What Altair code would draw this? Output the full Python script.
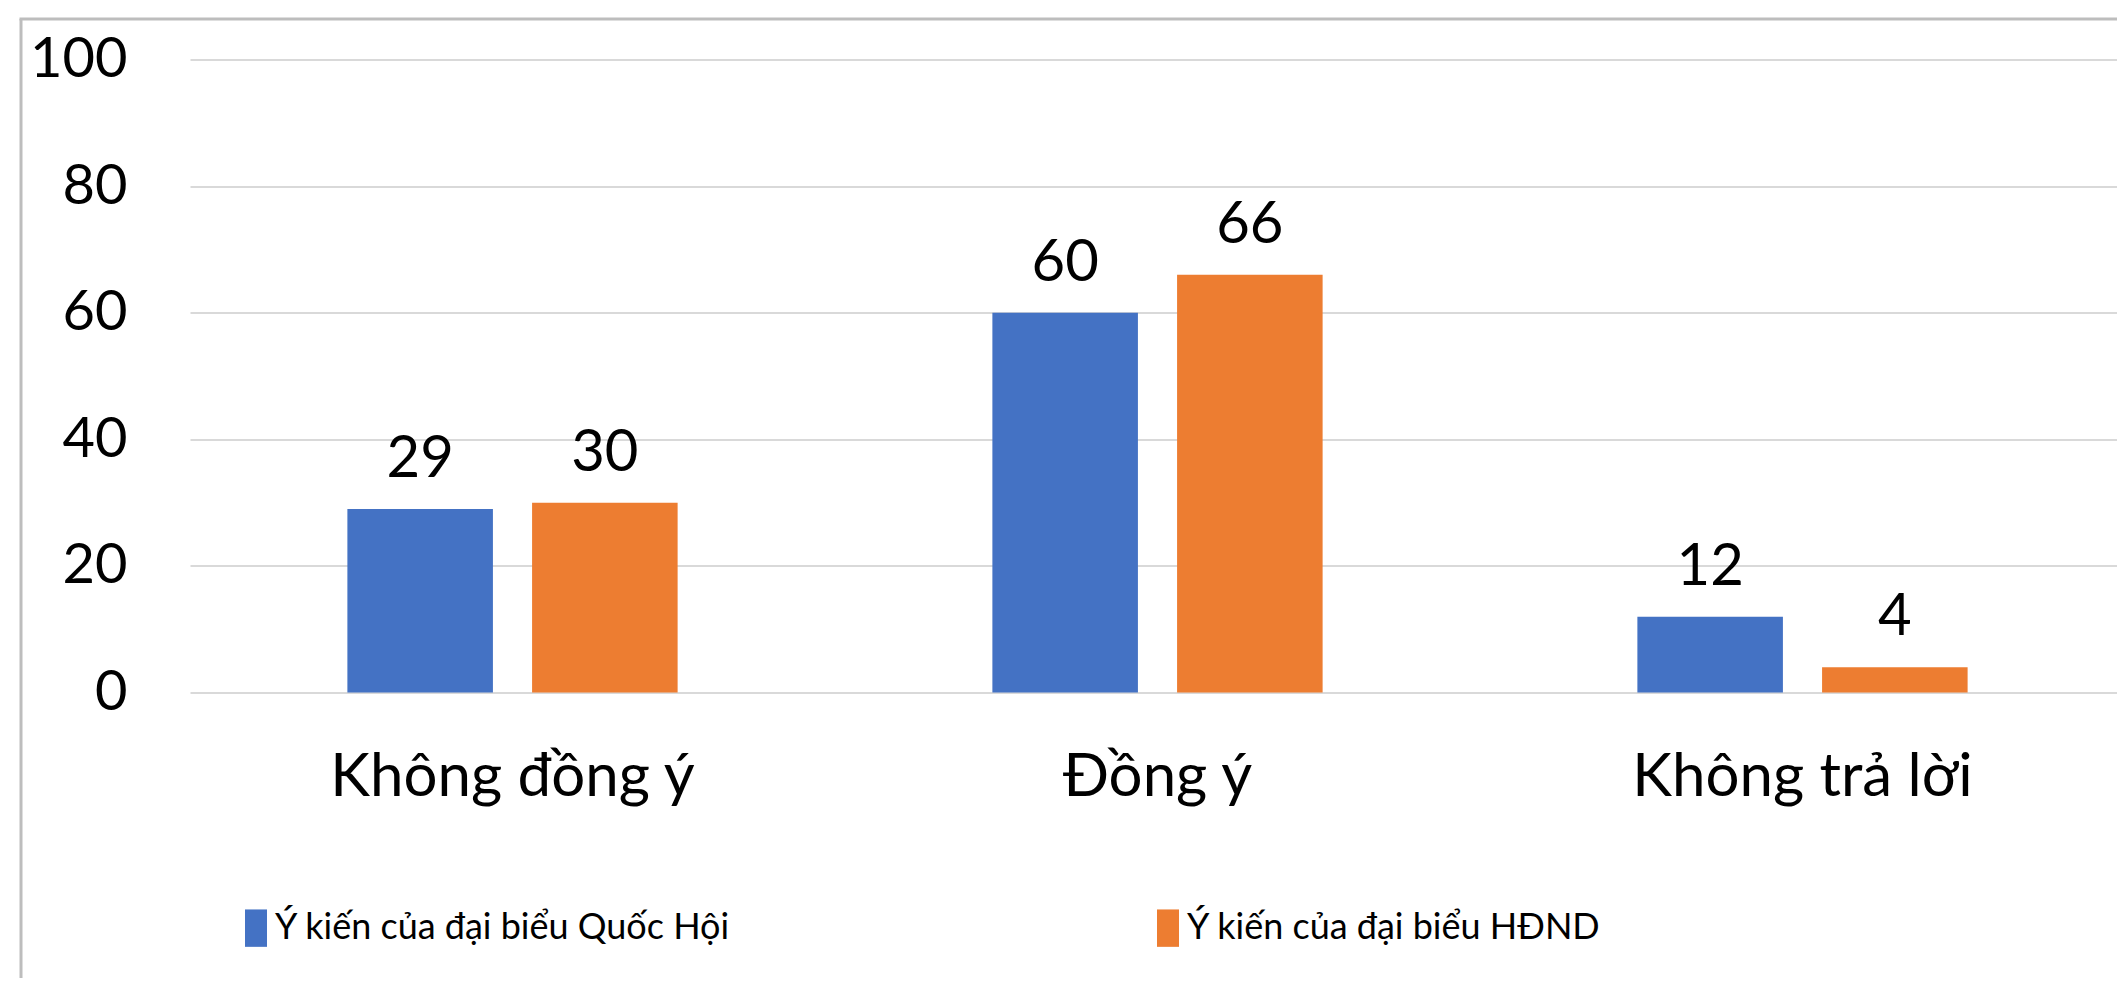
import altair as alt
import pandas as pd

categories = ["Không đồng ý", "Đồng ý", "Không trả lời"]
series_names = ["Ý kiến của đại biểu Quốc Hội", "Ý kiến của đại biểu HĐND"]
quoc_hoi = [29, 60, 12]
hdnd = [30, 66, 4]
y_ticks = [0, 20, 40, 60, 80, 100]
colors = ["#4472C4", "#ED7D31"]

rows = []
for i, c in enumerate(categories):
    rows.append({"cat": c, "series": series_names[0], "value": quoc_hoi[i]})
    rows.append({"cat": c, "series": series_names[1], "value": hdnd[i]})
df = pd.DataFrame(rows)

FONT = "Lato"
FS = 58

x = alt.X("cat:N", sort=categories,
          scale=alt.Scale(paddingInner=0.488, paddingOuter=0.244, range=[0, 1935]),
          axis=alt.Axis(title=None, labelAngle=0, domain=False, ticks=False, tickSize=0,
                        labelPadding=102.5, labelBaseline="alphabetic", labelLimit=2000,
                        labelFontSize=60, labelFont=FONT, labelColor="#000000"))
xo = alt.XOffset("series:N", sort=series_names,
                 scale=alt.Scale(paddingInner=0.212, paddingOuter=0))
y = alt.Y("value:Q", scale=alt.Scale(domain=[0, 100], nice=False),
          axis=alt.Axis(values=y_ticks, title=None, domain=False, ticks=False, tickSize=0,
                        labelPadding=63, grid=True, gridColor="#d9d9d9", gridWidth=2,
                        labelFontSize=56, labelFont=FONT, labelColor="#000000"))
color = alt.Color("series:N", sort=series_names,
                  scale=alt.Scale(domain=series_names, range=colors),
                  legend=alt.Legend(title=None, orient="none", legendX=48, legendY=850.4,
                                    direction="horizontal", columnPadding=419,
                                    symbolType="M-1,-1.7H1V1.7H-1Z", symbolSize=484,
                                    symbolStrokeWidth=0, symbolOpacity=1,
                                    labelFontSize=36, labelFont=FONT, labelColor="#000000",
                                    labelOffset=1, padding=0, labelLimit=2000))

base = alt.Chart(df)
bars = base.mark_bar().encode(x=x, xOffset=xo, y=y, color=color)
labels = base.mark_text(dy=-32, baseline="alphabetic", fontSize=FS, font=FONT,
                        color="#000000").encode(x=x, xOffset=xo, y=y, text="value:Q")

frame_df = pd.DataFrame({"k": [0]})
left_border = alt.Chart(frame_df).mark_rule(color="#bdbdbd", strokeWidth=3).encode(
    x=alt.value(-169), y=alt.value(-40.6), y2=alt.value(1000))
top_border = alt.Chart(frame_df).mark_rule(color="#bdbdbd", strokeWidth=3).encode(
    x=alt.value(-170.5), x2=alt.value(2100), y=alt.value(-40.6))

chart = alt.layer(bars, labels, left_border, top_border).properties(
    width=1927, height=633,
    autosize=alt.AutoSizeParams(type="none"),
    padding={"left": 182, "top": 51.6, "right": 0, "bottom": 285},
    background="white",
).configure_view(stroke=None)

chart.save("out.html", embed_options={"renderer": "svg", "actions": False})
